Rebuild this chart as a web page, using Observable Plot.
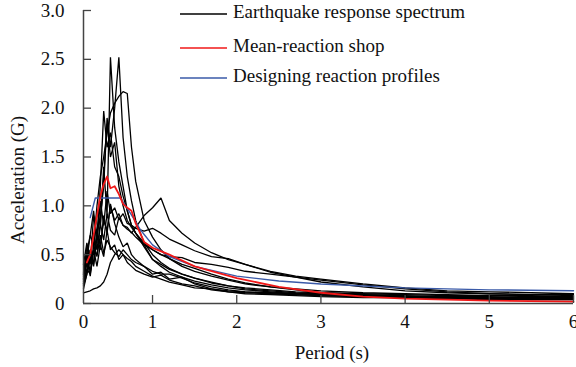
<!DOCTYPE html>
<html>
<head>
<meta charset="utf-8">
<script src="https://cdn.jsdelivr.net/npm/d3@7"></script>
<script src="https://cdn.jsdelivr.net/npm/@observablehq/plot@0.6"></script>
<style>
  html, body { margin: 0; padding: 0; background: #fff; }
  #chart { position: relative; width: 576px; height: 367px; }
</style>
</head>
<body>
<div id="chart"></div>
<script>
// ---- Data ----
const periods = [0.18,0.22,0.26,0.3,0.34,0.38,0.42,0.46,0.5,0.55,0.6,0.65,0.7,0.75,0.8,0.9,1.0,1.1,1.2,1.35,1.5,1.7,1.9,2.1,2.4,2.7,3.0,3.5,4.0,4.5,5.0,5.5,6.0];

const eq1  = [0.22,0.35,0.3,0.55,0.5,0.8,1.4,0.9,2.52,1.8,1.45,1.2,0.95,0.8,0.72,0.58,0.45,0.4,0.35,0.3,0.26,0.22,0.18,0.16,0.14,0.12,0.11,0.1,0.09,0.08,0.08,0.07,0.07];
const eq2  = [0.18,0.3,0.45,0.4,0.7,0.9,1.2,1.9,1.6,2.0,2.52,1.7,1.3,1.05,0.85,0.62,0.5,0.42,0.36,0.3,0.26,0.21,0.18,0.15,0.13,0.11,0.1,0.08,0.07,0.06,0.06,0.05,0.05];
const eq3  = [0.3,0.45,0.7,0.6,1.0,1.3,1.5,1.75,1.95,2.05,2.12,2.17,2.15,1.6,1.25,0.85,0.68,0.55,0.46,0.38,0.33,0.28,0.24,0.2,0.17,0.15,0.13,0.11,0.1,0.09,0.08,0.08,0.07];
const eq4  = [0.25,0.6,0.4,0.9,0.7,1.2,1.97,1.6,1.75,1.4,1.3,1.1,0.95,0.8,0.72,0.6,0.45,0.38,0.32,0.27,0.23,0.19,0.16,0.14,0.12,0.1,0.09,0.08,0.07,0.07,0.06,0.06,0.06];
const eq5  = [0.2,0.35,0.55,0.5,0.95,0.8,1.3,1.84,1.5,1.65,1.2,1.0,0.85,0.78,0.72,0.62,0.55,0.5,0.46,0.4,0.36,0.3,0.25,0.21,0.17,0.14,0.11,0.09,0.07,0.06,0.05,0.05,0.05];
const eq6  = [0.28,0.4,0.5,0.42,0.7,0.6,0.85,0.75,1.0,0.85,0.92,0.8,0.78,0.72,0.78,0.9,0.98,1.08,0.85,0.72,0.62,0.52,0.45,0.4,0.32,0.27,0.22,0.17,0.13,0.11,0.1,0.09,0.09];
const eq7  = [0.4,0.62,0.45,0.72,0.55,0.82,0.65,0.92,0.75,0.7,0.88,0.8,0.76,0.73,0.68,0.6,0.55,0.5,0.48,0.47,0.42,0.4,0.37,0.33,0.3,0.27,0.24,0.19,0.15,0.12,0.1,0.09,0.08];
const eq8  = [0.3,0.5,0.32,0.6,0.48,0.7,0.52,0.65,0.58,0.52,0.48,0.55,0.5,0.45,0.42,0.38,0.33,0.3,0.3,0.26,0.21,0.17,0.14,0.12,0.1,0.09,0.08,0.07,0.06,0.05,0.05,0.04,0.04];
const eq9  = [0.15,0.3,0.55,0.38,0.7,0.55,0.9,0.72,1.02,0.82,0.68,0.58,0.62,0.5,0.45,0.38,0.3,0.32,0.25,0.27,0.2,0.15,0.12,0.1,0.09,0.08,0.07,0.06,0.06,0.05,0.04,0.04,0.04];
const eq10 = [0.11,0.12,0.13,0.15,0.16,0.18,0.22,0.3,0.42,0.5,0.55,0.5,0.46,0.43,0.38,0.33,0.28,0.25,0.22,0.19,0.16,0.15,0.13,0.12,0.11,0.1,0.1,0.09,0.08,0.07,0.07,0.06,0.06];
const eq11 = [0.2,0.45,0.28,0.55,0.38,0.6,0.48,0.75,0.55,0.6,0.45,0.5,0.42,0.38,0.34,0.3,0.27,0.29,0.24,0.2,0.18,0.14,0.12,0.11,0.1,0.09,0.08,0.07,0.06,0.06,0.05,0.05,0.05];
const eq12 = [0.32,0.52,0.7,0.95,0.62,1.05,0.8,1.15,0.92,0.98,0.86,0.92,0.82,0.8,0.77,0.74,0.77,0.72,0.66,0.6,0.54,0.48,0.46,0.4,0.33,0.28,0.25,0.2,0.16,0.13,0.12,0.11,0.1];

const meanPeriods = [0.22,0.26,0.3,0.34,0.38,0.42,0.46,0.5,0.55,0.6,0.65,0.7,0.75,0.8,0.9,1.0,1.2,1.5,2.0,2.5,3.0,3.5,4.0,5.0,6.0];
const meanValues  = [0.42,0.5,0.7,0.9,1.1,1.22,1.3,1.18,1.2,1.12,1.02,0.98,0.95,0.82,0.63,0.57,0.5,0.38,0.26,0.17,0.11,0.07,0.05,0.03,0.02];

const designPeriods = [0.26,0.32,0.62,0.74,0.86,1.0,1.2,1.5,2.0,2.5,3.0,4.0,5.0,6.0];
const designValues  = [0.88,1.08,1.08,0.92,0.75,0.6,0.48,0.38,0.28,0.23,0.2,0.16,0.14,0.13];

const xTicks = [0.18,1,2,3,4,5,6];
const xTickLabels = ["0","1","2","3","4","5","6"];
const yTicks = [0,0.5,1,1.5,2,2.5,3];
const yTickLabels = ["0","0.5","1.0","1.5","2.0","2.5","3.0"];

const legendLabels = ["Earthquake response spectrum","Mean-reaction shop","Designing reaction profiles"];
const xLabel = "Period (s)";
const yLabel = "Acceleration (G)";

// ---- Build tables ----
const spectra = [eq1,eq2,eq3,eq4,eq5,eq6,eq7,eq8,eq9,eq10,eq11,eq12];
const eqRows = spectra.flatMap((vals, i) => vals.map((a, j) => ({id: i, T: periods[j], A: a})));
const meanRows = meanPeriods.map((t, i) => ({T: t, A: meanValues[i]}));
const designRows = designPeriods.map((t, i) => ({T: t, A: designValues[i]}));

const W = 576, H = 367, mL = 83, mR = 3, mT = 10, mB = 64;
const axisColor = "#444";

const chart = Plot.plot({
  width: W, height: H,
  marginLeft: mL, marginRight: mR, marginTop: mT, marginBottom: mB,
  style: {fontFamily: "'Liberation Serif', 'Times New Roman', serif", fontSize: "19px", background: "#fff", color: "#111"},
  x: {domain: [0.18, 6]},
  y: {domain: [0, 3]},
  marks: [
    Plot.line(eqRows, {x: "T", y: "A", z: "id", stroke: "#000", strokeWidth: 1.3, strokeLinejoin: "miter"}),
    Plot.line(designRows, {x: "T", y: "A", stroke: "#3a5aa8", strokeWidth: 1.4}),
    Plot.line(meanRows, {x: "T", y: "A", stroke: "#f01818", strokeWidth: 1.8}),
    Plot.ruleX([0.18], {stroke: axisColor, strokeWidth: 1.5}),
    Plot.ruleY([0], {stroke: axisColor, strokeWidth: 1.5}),
    Plot.tickY(yTicks, {y: d => d, stroke: axisColor, strokeWidth: 1.3, insetRight: W - mL - mR - 8}),
    Plot.tickX(xTicks.slice(1), {x: d => d, stroke: axisColor, strokeWidth: 1.3, insetTop: H - mT - mB - 8}),
    Plot.axisX({ticks: xTicks, tickSize: 0, tickPadding: 11, label: null,
      tickFormat: d => xTickLabels[xTicks.indexOf(d)]}),
    Plot.axisY({ticks: yTicks, tickSize: 0, tickPadding: 19, label: null,
      tickFormat: d => yTickLabels[yTicks.indexOf(d)]})
  ]
});

document.getElementById("chart").appendChild(chart);

// ---- Axis titles and legend (text) ----
const svg = d3.select(chart);
const font = "'Liberation Serif', 'Times New Roman', serif";
svg.append("text")
  .attr("transform", "translate(20,180) rotate(-90)")
  .attr("text-anchor", "middle").attr("dominant-baseline", "middle")
  .attr("font-family", font).attr("font-size", 19).attr("fill", "#111")
  .text(yLabel);
svg.append("text")
  .attr("x", 332).attr("y", 355)
  .attr("text-anchor", "middle").attr("dominant-baseline", "middle")
  .attr("font-family", font).attr("font-size", 19).attr("fill", "#111")
  .text(xLabel);

const legendColors = ["#000", "#f01818", "#3a5aa8"];
const legendY = [14, 48, 78];
legendLabels.forEach((lab, i) => {
  const g = svg.append("g");
  g.append("line").attr("x1", 180).attr("x2", 227).attr("y1", legendY[i]).attr("y2", legendY[i])
    .attr("stroke", legendColors[i]).attr("stroke-width", 1.4);
  g.append("text").attr("x", 233).attr("y", legendY[i])
    .attr("text-anchor", "start")
    .attr("dominant-baseline", "middle")
    .attr("font-family", font).attr("font-size", 19).attr("fill", "#111")
    .text(lab);
});
</script>
</body>
</html>
